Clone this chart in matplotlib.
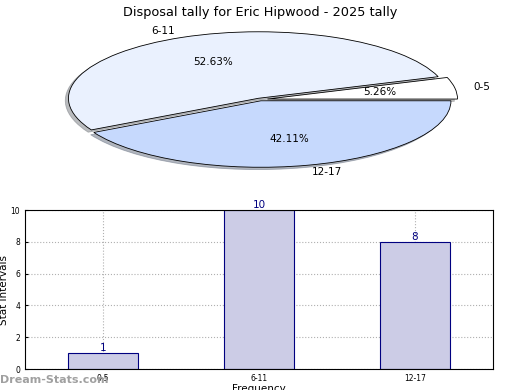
import numpy as np
import matplotlib.pyplot as plt

# pie data
pie_labels = ['0-5', '6-11', '12-17']
pie_counts = [1, 10, 8]
pie_colors = ['#ffffff', '#eaf1fe', '#c6d9fd']

# bar data
bar_labels = ['0-5', '6-11', '12-17']
bar_values = [1, 10, 8]

title = 'Disposal tally for Eric Hipwood - 2025 tally'


def main():
    fig = plt.figure(figsize=(5.2, 3.9), dpi=100)
    fig.text(0.5, 0.985, title, ha='center', va='top', fontsize=9.3)

    # squashed pie on top
    ax1 = fig.add_axes([0.1346, 0.5744, 0.7308, 0.341])
    ax1.pie(pie_counts, labels=pie_labels, colors=pie_colors,
            explode=(0.04, 0.02, 0.02), autopct='%.2f%%', startangle=0,
            shadow={'ox': -0.012, 'oy': -0.025, 'shade': 0.5},
            pctdistance=0.6, labeldistance=1.1,
            wedgeprops={'edgecolor': 'black', 'linewidth': 0.6},
            textprops={'fontsize': 7.5})
    ax1.set_aspect('auto')
    ax1.set_xlim(-1, 1)
    ax1.set_ylim(-1, 1)
    ax1.axis('off')

    # bar chart below
    ax2 = fig.add_axes([0.048, 0.0538, 0.9, 0.4077])
    x = np.arange(len(bar_values))
    bars = ax2.bar(x, bar_values, width=0.45, color='#ccccE6',
                   edgecolor='#000080', linewidth=0.8, zorder=2)
    for b, v in zip(bars, bar_values):
        ax2.text(b.get_x() + b.get_width() / 2, v, str(v), ha='center',
                 va='bottom', color='#000080', fontsize=7.5)
    ax2.set_xlim(-0.5, 2.5)
    ax2.set_ylim(0, 10)
    ax2.set_xticks(x)
    ax2.set_xticklabels(bar_labels)
    ax2.set_yticks([0, 2, 4, 6, 8, 10])
    ax2.tick_params(labelsize=5.5, length=2, direction='in')
    ax2.grid(True, linestyle=':', color='#b0b0b0', linewidth=0.8, zorder=0)
    ax2.set_axisbelow(True)
    ax2.set_xlabel('Frequency', fontsize=7.5, labelpad=1)
    ax2.set_ylabel('Stat Intervals', fontsize=7.5)
    ax2.yaxis.set_label_coords(-0.034, 0.5)

    fig.text(0.0, 0.012, 'Dream-Stats.com', color='#a0a0a0', fontsize=8,
             fontweight='bold', ha='left', va='bottom')

    fig.savefig('out.png', dpi=100)


if __name__ == "__main__":
    main()
